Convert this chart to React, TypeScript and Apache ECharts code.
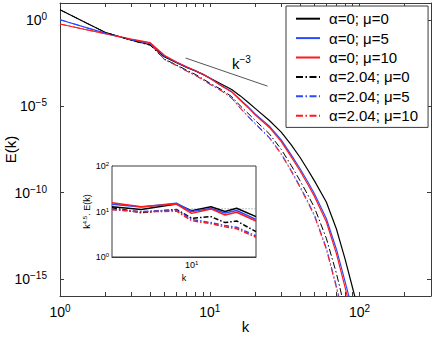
import { useEffect, useRef } from 'react';
import * as echarts from 'echarts';

const FONT = "'Liberation Sans', Arial, Helvetica, sans-serif";

// ---- series meta ----
const seriesNames = ['α=0; μ=0', 'α=0; μ=5', 'α=0; μ=10', 'α=2.04; μ=0', 'α=2.04; μ=5', 'α=2.04; μ=10'];
const seriesColors = ['#000000', '#2a4bff', '#ff1a1a', '#000000', '#2a4bff', '#ff1a1a'];
const seriesDashDot = [false, false, false, true, true, true];

// ---- main plot: wavenumbers and log10 E(k) ----
const kMain = [1, 1.5, 2, 3, 4, 5, 6, 7, 8, 9, 10, 12, 14, 16, 18, 20, 25, 30, 35, 40, 45, 50, 60, 70, 80, 90, 100];
const logE_a0_mu0 = [0.61, -0.16, -0.7, -1.16, -1.42, -2.13, -2.47, -2.74, -2.94, -3.14, -3.35, -3.71, -4.02, -4.39, -4.76, -5.1, -5.82, -6.49, -7.23, -7.95, -8.66, -9.32, -10.55, -12.1, -13.85, -15.55, -17.1];
const logE_a0_mu5 = [0.03, -0.43, -0.75, -1.13, -1.35, -2.08, -2.44, -2.72, -2.93, -3.13, -3.35, -3.8, -4.14, -4.61, -5.01, -5.42, -6.15, -6.94, -7.81, -8.6, -9.36, -10.07, -11.5, -13.27, -15.15, -16.87, -18.6];
const logE_a0_mu10 = [-0.22, -0.55, -0.78, -1.1, -1.3, -2.05, -2.42, -2.7, -2.92, -3.13, -3.36, -3.82, -4.16, -4.64, -5.06, -5.47, -6.22, -7.04, -7.93, -8.73, -9.5, -10.22, -11.69, -13.53, -15.49, -17.3, -19.0];
const logE_a2_mu0 = [0.61, -0.16, -0.7, -1.17, -1.45, -2.27, -2.59, -2.9, -3.14, -3.4, -3.65, -4.03, -4.43, -4.97, -5.4, -5.79, -6.59, -7.49, -8.43, -9.3, -10.11, -10.87, -12.65, -14.67, -16.75, -18.5, -20.3];
const logE_a2_mu5 = [0.03, -0.43, -0.75, -1.14, -1.37, -2.29, -2.62, -2.94, -3.19, -3.45, -3.7, -4.09, -4.51, -5.09, -5.56, -5.96, -6.79, -7.73, -8.71, -9.62, -10.48, -11.29, -13.2, -15.4, -17.6, -19.6, -21.6];
const logE_a2_mu10 = [-0.22, -0.55, -0.78, -1.12, -1.34, -2.3, -2.63, -2.95, -3.2, -3.46, -3.72, -4.11, -4.53, -5.12, -5.6, -6.01, -6.84, -7.79, -8.78, -9.7, -10.56, -11.37, -13.3, -15.52, -17.75, -19.8, -21.8];
const mainLogE = [logE_a0_mu0, logE_a0_mu5, logE_a0_mu10, logE_a2_mu0, logE_a2_mu5, logE_a2_mu10];

// k^-3 reference segment
const refK = [6.9, 24.3];
const refE = [6.4e-3, 1.5e-4];

// ---- inset: k^4.5 E(k) ----
const kInset = [4, 5.6, 8.4, 10, 12.5, 14.7, 16.8, 21];
const inset_a0_mu0 = [12.7, 11.1, 14.6, 10.4, 12.7, 10.0, 11.8, 7.7];
const inset_a0_mu5 = [14.4, 12.5, 15.2, 10.0, 11.6, 9.3, 10.5, 6.7];
const inset_a0_mu10 = [15.6, 12.7, 14.6, 9.1, 11.4, 8.4, 9.6, 6.2];
const inset_a2_mu0 = [12.1, 9.4, 11.1, 7.1, 7.7, 5.7, 6.2, 3.6];
const inset_a2_mu5 = [11.1, 10.0, 10.8, 6.7, 5.7, 4.9, 4.5, 2.9];
const inset_a2_mu10 = [11.0, 9.8, 10.2, 6.3, 5.4, 4.6, 4.2, 2.7];
const insetValues = [inset_a0_mu0, inset_a0_mu5, inset_a0_mu10, inset_a2_mu0, inset_a2_mu5, inset_a2_mu10];
const insetRefK = [10, 21];
const insetRefV = [11.5, 11.5];

// ---- ticks ----
const xTickValues = [1, 2, 3, 4, 5, 6, 7, 8, 9, 10, 20, 30, 40, 50, 60, 70, 80, 90, 100, 200, 300];
const xLabelValues = [1, 10, 100];
const yTickValues = [1e-15, 1e-10, 1e-5, 1];
const insetXTicks = [10];
const insetYTicks = [1, 10, 100];

const supLabel = (v: number) => {
  const e = Math.round(Math.log10(v));
  return `{b|10}{s|${e < 0 ? '−' + -e : e}}`;
};

const AXIS_COLOR = '#3a3a3a';
const mainRich = {
  b: { fontSize: 14, color: '#000', fontFamily: FONT },
  s: { fontSize: 10, color: '#000', fontFamily: FONT, padding: [0, 0, 7, 0] },
};
const insetRich = {
  b: { fontSize: 9, color: '#000', fontFamily: FONT },
  s: { fontSize: 6, color: '#000', fontFamily: FONT, padding: [0, 0, 4, 0] },
};

const dashDot = [7, 2.5, 1.5, 2.5];

export default function App() {
  const ref = useRef<HTMLDivElement>(null);
  useEffect(() => {
    const el = ref.current!;
    const chart = echarts.init(el, null, { renderer: 'svg' });

    const mainSeries = seriesNames.map((name, i) => ({
      name,
      type: 'line',
      xAxisIndex: 0,
      yAxisIndex: 0,
      symbol: 'none',
      clip: true,
      data: kMain.map((k, j) => [k, Math.pow(10, mainLogE[i][j])]),
      lineStyle: { color: seriesColors[i], width: seriesDashDot[i] ? 1 : 1.2, type: seriesDashDot[i] ? dashDot : 'solid' },
      itemStyle: { color: seriesColors[i] },
      z: 3,
    }));

    const insetSeries = seriesNames.map((name, i) => ({
      name,
      type: 'line',
      xAxisIndex: 2,
      yAxisIndex: 2,
      symbol: 'none',
      clip: true,
      data: kInset.map((k, j) => [k, insetValues[i][j]]),
      lineStyle: { color: seriesColors[i], width: 1.5, type: seriesDashDot[i] ? [5, 2, 1.5, 2] : 'solid' },
      itemStyle: { color: seriesColors[i] },
      z: 5,
    }));

    const option: any = {
      animation: false,
      textStyle: { fontFamily: FONT },
      grid: [
        { left: 60, top: 3, width: 371, height: 293, containLabel: false, outerBoundsMode: 'none', show: false },
        {
          left: 112, top: 166, width: 144, height: 91, containLabel: false, outerBoundsMode: 'none',
          show: true, backgroundColor: '#fff', borderColor: AXIS_COLOR, borderWidth: 1, z: 4,
        },
      ],
      xAxis: [
        {
          gridIndex: 0, type: 'log', logBase: 10, min: 1, max: 300, position: 'bottom',
          axisLine: { show: true, lineStyle: { color: AXIS_COLOR, width: 1 } },
          axisTick: { show: true, inside: true, length: 4, customValues: xTickValues, lineStyle: { color: AXIS_COLOR } },
          axisLabel: { show: true, customValues: xLabelValues, margin: 7, formatter: supLabel, rich: mainRich },
          splitLine: { show: false }, minorTick: { show: false },
          name: 'k', nameLocation: 'middle', nameGap: 23, nameMoveOverlap: false,
          nameTextStyle: { fontSize: 15, color: '#000', fontFamily: FONT },
        },
        {
          gridIndex: 0, type: 'log', logBase: 10, min: 1, max: 300, position: 'top',
          axisLine: { show: true, lineStyle: { color: AXIS_COLOR, width: 1 } },
          axisTick: { show: true, inside: true, length: 4, customValues: xTickValues, lineStyle: { color: AXIS_COLOR } },
          axisLabel: { show: false }, splitLine: { show: false },
        },
        {
          gridIndex: 1, type: 'log', logBase: 10, min: 4, max: 21, position: 'bottom',
          axisLine: { show: true, lineStyle: { color: AXIS_COLOR, width: 1 } },
          axisTick: { show: true, inside: true, length: 3, customValues: insetXTicks, lineStyle: { color: AXIS_COLOR } },
          axisLabel: { show: true, customValues: insetXTicks, margin: 3, formatter: supLabel, rich: insetRich },
          splitLine: { show: false },
          name: 'k', nameLocation: 'middle', nameGap: 16, nameMoveOverlap: false,
          nameTextStyle: { fontSize: 9, color: '#000', fontFamily: FONT },
        },
      ],
      yAxis: [
        {
          gridIndex: 0, type: 'log', logBase: 10, min: 1e-16, max: 10, position: 'left',
          axisLine: { show: true, lineStyle: { color: AXIS_COLOR, width: 1 } },
          axisTick: { show: true, inside: true, length: 4, customValues: yTickValues, lineStyle: { color: AXIS_COLOR } },
          axisLabel: { show: true, customValues: yTickValues, margin: 13, formatter: supLabel, rich: mainRich },
          splitLine: { show: false },
          name: 'E(k)', nameLocation: 'middle', nameGap: 42, nameRotate: 90, nameMoveOverlap: false,
          nameTextStyle: { fontSize: 15, color: '#000', fontFamily: FONT },
        },
        {
          gridIndex: 0, type: 'log', logBase: 10, min: 1e-16, max: 10, position: 'right',
          axisLine: { show: true, lineStyle: { color: AXIS_COLOR, width: 1 } },
          axisTick: { show: true, inside: true, length: 4, customValues: yTickValues, lineStyle: { color: AXIS_COLOR } },
          axisLabel: { show: false }, splitLine: { show: false },
        },
        {
          gridIndex: 1, type: 'log', logBase: 10, min: 1, max: 100, position: 'left',
          axisLine: { show: true, lineStyle: { color: AXIS_COLOR, width: 1 } },
          axisTick: { show: true, inside: true, length: 3, customValues: [10], lineStyle: { color: AXIS_COLOR } },
          axisLabel: { show: true, customValues: insetYTicks, margin: 3, formatter: supLabel, rich: insetRich },
          splitLine: { show: false },
          name: '{b|k}{s|4.5}{b|. E(k)}', nameLocation: 'middle', nameGap: 20, nameRotate: 90, nameMoveOverlap: false,
          nameTextStyle: { rich: insetRich, fontSize: 9, color: '#000', fontFamily: FONT },
        },
      ],
      legend: {
        data: seriesNames,
        orient: 'vertical',
        left: 286,
        top: 6,
        itemWidth: 24,
        itemHeight: 2,
        itemGap: 0,
        selectedMode: false,
        padding: [3, 10, 2, 9],
        borderColor: AXIS_COLOR,
        borderWidth: 1,
        backgroundColor: '#fff',
        itemStyle: { opacity: 0 },
        textStyle: { fontSize: 15, lineHeight: 19.4, color: '#000', fontFamily: FONT, padding: [0, 0, 0, 4] },
        z: 10,
      },
      graphic: [
        {
          type: 'text', left: 232, top: 54, z: 10,
          style: {
            text: '{b|k}{s|−3}',
            rich: {
              b: { fontSize: 15, fill: '#000', fontFamily: FONT },
              s: { fontSize: 10, fill: '#000', fontFamily: FONT, padding: [0, 0, 8, 0] },
            },
          },
        },
      ],
      series: [
        ...mainSeries,
        {
          name: 'k^-3', type: 'line', xAxisIndex: 0, yAxisIndex: 0, symbol: 'none',
          data: refK.map((k, j) => [k, refE[j]]),
          lineStyle: { color: '#555', width: 1 }, z: 2,
        },
        ...insetSeries,
        {
          name: 'inset-ref', type: 'line', xAxisIndex: 2, yAxisIndex: 2, symbol: 'none',
          data: insetRefK.map((k, j) => [k, insetRefV[j]]),
          lineStyle: { color: '#888', width: 1, type: [1, 2] }, z: 4,
        },
      ],
    };

    chart.setOption(option);
    return () => chart.dispose();
  }, []);

  return <div ref={ref} style={{ position: 'absolute', left: 0, top: 0, width: 434, height: 337 }} />;
}
